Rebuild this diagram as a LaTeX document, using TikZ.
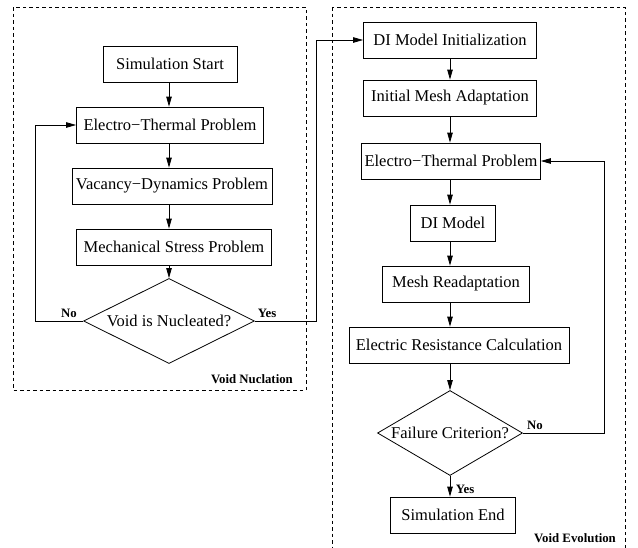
\documentclass[tikz,border=0pt]{standalone}
\usepackage{fontspec}
\setmainfont{Liberation Serif}
\usepackage{tikz}
\usetikzlibrary{arrows.meta, shapes.geometric}

\tikzset{
  block/.style={draw, line width=0.8pt, minimum height=36pt, inner sep=3pt,
    font=\fontsize{16.5}{19}\selectfont},
  decide/.style={draw, line width=0.8pt, diamond, inner sep=0pt,
    font=\fontsize{16.5}{19}\selectfont},
  arr/.style={line width=0.8pt, -{Triangle[length=10pt,width=5.5pt]}},
  tag/.style={font=\fontsize{12.8}{14}\selectfont\bfseries, inner sep=0pt},
  frame/.style={line width=0.7pt, dash pattern=on 3.5pt off 3pt}
}

\begin{document}
\begin{tikzpicture}[x=1pt, y=-1pt]
    \useasboundingbox (0,0) rectangle (638,547);

      % frames
      \draw[frame] (13,7) rectangle (306,390);
      \draw[frame] (332,7) rectangle (625,560);
      \node[tag] (nucl) at (252,379) {Void Nuclation};
      \node[tag] (evol) at (575,538) {Void Evolution};

      % left column
      \node[block, minimum width=134pt] (start)  at (170,64)  {Simulation Start};
      \node[block, minimum width=187pt] (etp)    at (170,125) {Electro−Thermal Problem};
      \node[block, minimum width=200pt] (vdp)    at (172,186) {Vacancy−Dynamics Problem};
      \node[block, minimum width=195pt] (msp)    at (174,247) {Mechanical Stress Problem};
      \node[decide, minimum width=171pt, minimum height=85pt, aspect=2] (nuc) at (169,321) {Void is Nucleated?};

      % right column
      \node[block, minimum width=173pt] (diinit) at (450,40)  {DI Model Initialization};
      \node[block, minimum width=173pt] (mesh)   at (450,98)  {Initial Mesh Adaptation};
      \node[block, minimum width=178pt] (etp2)   at (451,161) {Electro−Thermal Problem};
      \node[block, minimum width=85pt]  (di)     at (453,223) {DI Model};
      \node[block, minimum width=147pt] (remesh) at (456,284) {Mesh Readaptation};
      \node[block, minimum width=220pt] (res)    at (459,345) {Electric Resistance Calculation};
      \node[decide, minimum width=145pt, minimum height=85pt, aspect=1.7] (fail) at (450,433) {Failure Criterion?};
      \node[block, minimum width=125pt] (stop)   at (453,515) {Simulation End};

      % flow
      \draw[arr] (start.south -| nuc.north) -- (etp.north -| nuc.north);
      \draw[arr] (etp.south -| nuc.north) -- (vdp.north -| nuc.north);
      \draw[arr] (vdp.south -| nuc.north) -- (msp.north -| nuc.north);
      \draw[arr] (msp.south -| nuc.north) -- (nuc.north);
      \draw[arr] (nuc.west) -- ++(-48,0) |- (etp.west);
      \draw[arr] (nuc.east) -- ++(61,0) |- (diinit.west);
      \draw[arr] (diinit.south -| fail.north) -- (mesh.north -| fail.north);
      \draw[arr] (mesh.south -| fail.north) -- (etp2.north -| fail.north);
      \draw[arr] (etp2.south -| fail.north) -- (di.north -| fail.north);
      \draw[arr] (di.south -| fail.north) -- (remesh.north -| fail.north);
      \draw[arr] (remesh.south -| fail.north) -- (res.north -| fail.north);
      \draw[arr] (res.south -| fail.north) -- (fail.north);
      \draw[arr] (fail.east) -- ++(81,0) |- (etp2.east);
      \draw[arr] (fail.south) -- (stop.north -| fail.south);

      % branch labels
      \node[tag] (no1)  at (69,313)  {No};
      \node[tag] (yes1) at (267,313) {Yes};
      \node[tag] (no2)  at (535,425) {No};
      \node[tag] (yes2) at (465,489) {Yes};
    \end{tikzpicture}
\end{document}
